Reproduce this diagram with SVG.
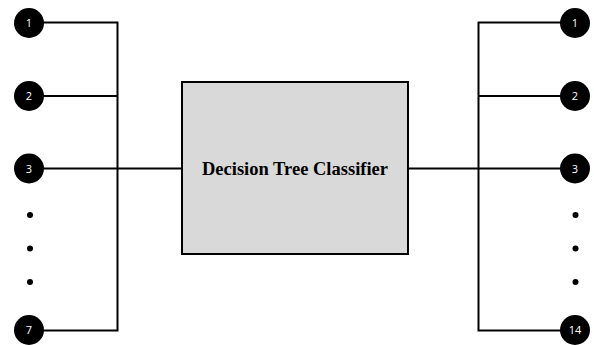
<svg xmlns="http://www.w3.org/2000/svg" width="594" height="345" viewBox="0 0 594 345">
<style>
.ln{stroke:#000;stroke-width:2;fill:none}
.c{fill:#000}
.t{fill:#fff;font-family:"Open Sans","Liberation Sans",sans-serif;font-size:11px;text-anchor:middle}
.dot{fill:#000}
.bx{fill:#d9d9d9;stroke:#000;stroke-width:2}
.bt{font-family:"Liberation Serif",serif;font-weight:bold;font-size:18.5px;text-anchor:middle}
</style>
<g id="connectors">
<path class="ln" d="M29 22.5H117.5V330.5H29M29 96H117.5M29 168.5H182"/>
<path class="ln" d="M575 22.5H478.5V330.5H575M575 96H478.5M575 168.5H408"/>
</g>
<g id="box"><rect class="bx" x="182" y="82" width="226" height="172"/><text class="bt" x="295" y="174.5">Decision Tree Classifier</text></g>
<g id="in1"><circle class="c" cx="29" cy="23" r="15"/><text class="t" x="29" y="27">1</text></g>
<g id="in2"><circle class="c" cx="29" cy="96" r="15"/><text class="t" x="29" y="100">2</text></g>
<g id="in3"><circle class="c" cx="29" cy="168.5" r="15"/><text class="t" x="29" y="172.5">3</text></g>
<g id="in7"><circle class="c" cx="29" cy="330" r="15"/><text class="t" x="29" y="334">7</text></g>
<g id="indots"><circle class="dot" cx="30" cy="215" r="3"/><circle class="dot" cx="30" cy="248.5" r="3"/><circle class="dot" cx="30" cy="282" r="3"/></g>
<g id="out1"><circle class="c" cx="575" cy="23" r="15"/><text class="t" x="575" y="27">1</text></g>
<g id="out2"><circle class="c" cx="575" cy="96" r="15"/><text class="t" x="575" y="100">2</text></g>
<g id="out3"><circle class="c" cx="575" cy="168.5" r="15"/><text class="t" x="575" y="172.5">3</text></g>
<g id="out14"><circle class="c" cx="575" cy="330" r="15"/><text class="t" x="575" y="334">14</text></g>
<g id="outdots"><circle class="dot" cx="575.5" cy="215" r="3"/><circle class="dot" cx="575.5" cy="248.5" r="3"/><circle class="dot" cx="575.5" cy="282" r="3"/></g>
</svg>
